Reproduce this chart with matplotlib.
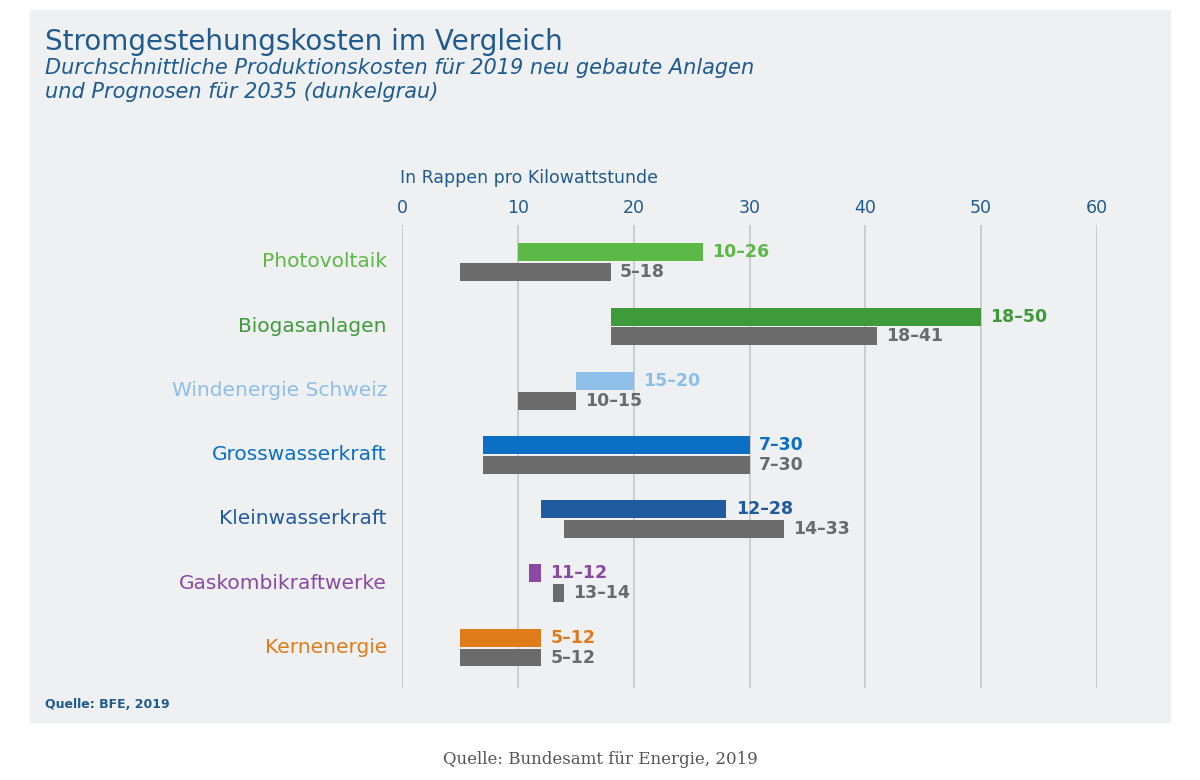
import matplotlib.pyplot as plt
from matplotlib.patches import Rectangle

categories = ["Photovoltaik", "Biogasanlagen", "Windenergie Schweiz", "Grosswasserkraft",
              "Kleinwasserkraft", "Gaskombikraftwerke", "Kernenergie"]
now_lo = [10, 18, 15, 7, 12, 11, 5]
now_hi = [26, 50, 20, 30, 28, 12, 12]
fut_lo = [5, 18, 10, 7, 14, 13, 5]
fut_hi = [18, 41, 15, 30, 33, 14, 12]
colors = ["#5cb847", "#3f9a3a", "#8dbfe8", "#0b6fc4", "#1f5b9e", "#8a4aa3", "#e07b1a"]
gray = "#6b6b6b"
ticks = [0, 10, 20, 30, 40, 50, 60]

W, H = 1200, 780
fig = plt.figure(figsize=(12, 7.8), dpi=100)
bg = fig.add_axes([0, 0, 1, 1], zorder=-5)
bg.set_xlim(0, W)
bg.set_ylim(H, 0)
bg.axis("off")
bg.add_patch(Rectangle((30, 10), 1140, 712, color="#eff0f2"))

blue = "#1f5b8f"
fig.text(45 / W, 1 - 42 / H, "Stromgestehungskosten im Vergleich", color=blue,
         fontsize=20, va="center")
fig.text(45 / W, 1 - 80 / H, "Durchschnittliche Produktionskosten für 2019 neu gebaute Anlagen\n"
         "und Prognosen für 2035 (dunkelgrau)", color=blue, fontsize=15, style="italic",
         va="center", linespacing=1.25)
fig.text(400 / W, 1 - 178 / H, "In Rappen pro Kilowattstunde", color=blue, fontsize=12.5,
         va="center")
fig.text(45 / W, 1 - 705 / H, "Quelle: BFE, 2019", color=blue, fontsize=9, weight="bold",
         va="center")
fig.text(0.5, 1 - 760 / H, "Quelle: Bundesamt für Energie, 2019", family="DejaVu Serif",
         color="#555555", fontsize=12, ha="center", va="center")

ax = fig.add_axes([402 / W, 1 - 688 / H, (1097 - 402) / W, (688 - 225) / H], zorder=2)
ax.set_facecolor("none")
ax.set_xlim(0, 60)
ax.set_ylim(6.635, -0.576)
for s in ax.spines.values():
    s.set_visible(False)
ax.xaxis.tick_top()
ax.set_xticks(ticks)
ax.tick_params(axis="x", length=0, labelsize=12.5, labelcolor=blue, pad=6)
ax.set_yticks([])
for t in ticks:
    ax.axvline(t, color="#c4c6c9", lw=1.2, zorder=0)

for i, cat in enumerate(categories):
    c = colors[i]
    ax.barh(i - 0.15, now_hi[i] - now_lo[i], left=now_lo[i], height=0.28, color=c)
    ax.barh(i + 0.16, fut_hi[i] - fut_lo[i], left=fut_lo[i], height=0.28, color=gray)
    ax.text(now_hi[i] + 0.8, i - 0.15, f"{now_lo[i]}–{now_hi[i]}", color=c,
            fontsize=12.5, weight="bold", va="center")
    ax.text(fut_hi[i] + 0.8, i + 0.16, f"{fut_lo[i]}–{fut_hi[i]}", color=gray,
            fontsize=12.5, weight="bold", va="center")
    ax.text(-1.3, i, cat, color=c, fontsize=14.5, ha="right", va="center",
            clip_on=False)

fig.savefig("out.png", dpi=100)
